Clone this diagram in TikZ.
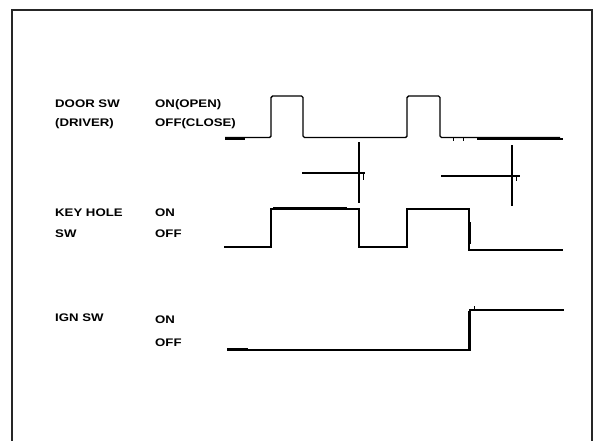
\documentclass[tikz,border=0pt]{standalone}
\usepackage{fontspec}
\setmainfont{Liberation Sans}
\newfontfamily\lblfont[FakeStretch=1.2]{Liberation Sans}
\begin{document}
\begin{tikzpicture}[x=1pt,y=-1pt,
  lbl/.style={anchor=west,inner sep=0pt,text height=7.9pt,text depth=0pt,
    font=\lblfont\fontsize{11}{11}\selectfont\bfseries},
  wave/.style={line width=1.4pt,line join=miter},
  heavy/.style={line width=2.6pt},
  marker/.style={line width=1.3pt}]
\useasboundingbox (0,0) rectangle (593,440);
% frame (open at the bottom)
\draw[line width=2pt,black!85] (12,445) -- (12,10) -- (592,10) -- (592,445);
% labels
\node[lbl] (doorA) at (55,104) {DOOR SW};
\node[lbl] (doorB) at (55,123) {(DRIVER)};
\node[lbl] (doorOn) at (155,104) {ON(OPEN)};
\node[lbl] (doorOff) at (155,123) {OFF(CLOSE)};
\node[lbl] (keyA) at (55,213) {KEY HOLE};
\node[lbl] (keyB) at (55,234) {SW};
\node[lbl] (keyOn) at (155,213) {ON};
\node[lbl] (keyOff) at (155,234) {OFF};
\node[lbl] (ignA) at (55,318) {IGN SW};
\node[lbl] (ignOn) at (155,320) {ON};
\node[lbl] (ignOff) at (155,343) {OFF};
% door switch waveform
\draw[wave,rounded corners=1.5pt] (225,137.5) -- (271,137.5) -- (271,96) -- (303,96) -- (303,137.5)
  -- (407,137.5) -- (407,96) -- (440,96) -- (440,137.5) -- (560,137.5);
\draw[wave] (555,139) -- (563,139);
\draw[heavy] (225,138.5) -- (245,138.5);
\draw[heavy] (477,139) -- (555,139);
\draw[line width=1pt] (453,138) -- (453,141) (463,138) -- (463,141);
% time markers
\draw[marker] (359,142) -- (359,203);
\draw[marker] (302,173) -- (365,173);
\draw[line width=1pt] (363,173) -- (363,180);
\draw[marker] (512,145) -- (512,206);
\draw[marker] (441,176) -- (520,176);
\draw[line width=1pt] (516,176) -- (516,181);
% key hole switch waveform
\draw[wave] (224,247) -- (271,247) -- (271,209) -- (359,209) -- (359,247)
  -- (407,247) -- (407,209) -- (469,209) -- (469,250) -- (563,250);
\draw[heavy] (273,208.5) -- (347,208.5);
\draw[line width=2.4pt] (470,222) -- (470,244);
% ignition switch waveform
\draw[wave] (227,350) -- (470,350) -- (470,310) -- (564,310);
\draw[heavy] (227,349.5) -- (248,349.5);
\draw[line width=2.6pt] (469.5,350) -- (469.5,311);
\draw[line width=1pt] (474,310) -- (474,306);
\end{tikzpicture}
\end{document}
